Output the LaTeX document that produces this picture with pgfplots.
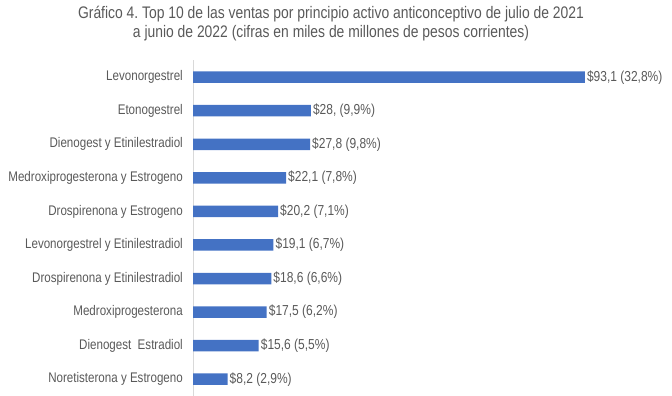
\documentclass[border=0pt]{standalone}
\usepackage{fontspec}
\setmainfont{Liberation Sans}[FakeStretch=0.83]
\usepackage{pgfplots}
\pgfplotsset{compat=1.18}
\definecolor{barblue}{HTML}{4472C4}
\definecolor{txtgray}{HTML}{595959}
\definecolor{axgray}{HTML}{D9D9D9}
\frenchspacing
\begin{document}
\begin{tikzpicture}[x=1bp,y=1bp]
\path[use as bounding box] (0,0) rectangle (672,395);
\node[text=txtgray, font=\fontsize{16.8}{19}\selectfont, align=center, anchor=north, inner sep=0pt] at (331,389) {Gráfico 4. Top 10 de las ventas por principio activo anticonceptivo de julio de 2021\\a junio de 2022 (cifras en miles de millones de pesos corrientes)};
\begin{axis}[
  at={(193bp,-1bp)}, anchor=south west,
  scale only axis, width=407bp, height=335.6bp,
  xmin=0, xmax=96.7, ymin=-0.5, ymax=9.5,
  axis y line*=left, axis x line=none,
  y axis line style={draw=axgray, -},
  ytick={0,...,9},
  yticklabels={Noretisterona y Estrogeno, Dienogest~ Estradiol, Medroxiprogesterona, Drospirenona y Etinilestradiol, Levonorgestrel y Etinilestradiol, Drospirenona y Estrogeno, Medroxiprogesterona y Estrogeno, Dienogest y Etinilestradiol, Etonogestrel, Levonorgestrel},
  major tick length=0pt,
  yticklabel style={font=\fontsize{14}{16}\selectfont, text=txtgray, inner sep=0pt, xshift=-10bp},
  xbar, bar width=11.5bp,
  point meta=explicit symbolic,
  nodes near coords,
  nodes near coords style={font=\fontsize{14.5}{16}\selectfont, text=txtgray, anchor=west, inner sep=2bp},
  clip=false,
]
\addplot[fill=barblue, draw=none] coordinates {
 (8.2,0) [\$8,2 (2,9\%)]
 (15.6,1) [\$15,6 (5,5\%)]
 (17.5,2) [\$17,5 (6,2\%)]
 (18.6,3) [\$18,6 (6,6\%)]
 (19.1,4) [\$19,1 (6,7\%)]
 (20.2,5) [\$20,2 (7,1\%)]
 (22.1,6) [\$22,1 (7,8\%)]
 (27.8,7) [\$27,8 (9,8\%)]
 (28,8) [\$28, (9,9\%)]
 (93.1,9) [\$93,1 (32,8\%)]
};
\end{axis}
\end{tikzpicture}
\end{document}
